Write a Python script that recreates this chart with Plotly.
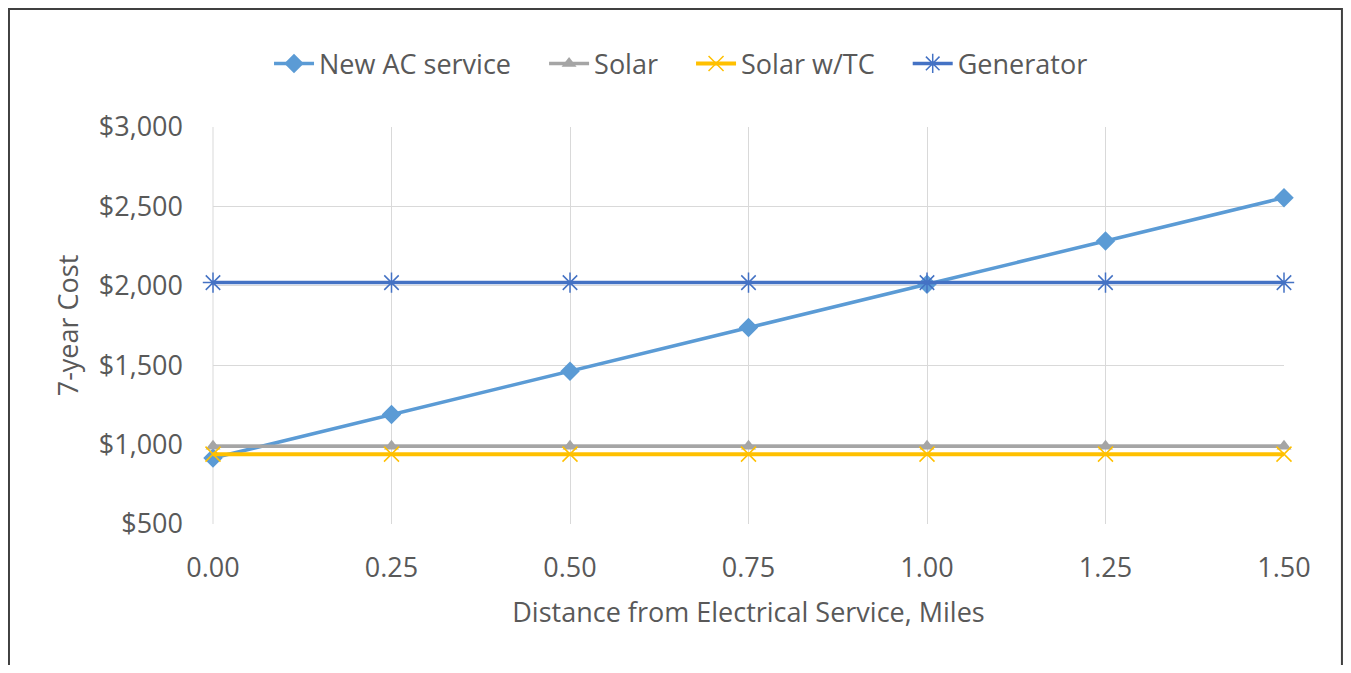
import plotly.graph_objects as go

distance = [0.00, 0.25, 0.50, 0.75, 1.00, 1.25, 1.50]
new_ac = [915, 1190, 1462, 1737, 2010, 2282, 2555]
solar = [990, 990, 990, 990, 990, 990, 990]
solar_tc = [940, 940, 940, 940, 940, 940, 940]
generator = [2020, 2020, 2020, 2020, 2020, 2020, 2020]

series_names = ["New AC service", "Solar", "Solar w/TC", "Generator"]

x_ticks = [0.00, 0.25, 0.50, 0.75, 1.00, 1.25, 1.50]
x_tick_text = ["0.00", "0.25", "0.50", "0.75", "1.00", "1.25", "1.50"]
y_ticks = [500, 1000, 1500, 2000, 2500, 3000]
y_tick_text = ["$500", "$1,000", "$1,500", "$2,000", "$2,500", "$3,000"]

FONT = "Open Sans"
TXT = "#595959"
FS = 27
PAD = "\u00a0" * 4

fig = go.Figure()
fig.add_trace(go.Scatter(x=distance, y=new_ac, name=series_names[0] + PAD, mode="lines+markers",
                         line=dict(color="#5B9BD5", width=3.5),
                         marker=dict(symbol="diamond", size=15, color="#5B9BD5"),
                         cliponaxis=False))
fig.add_trace(go.Scatter(x=distance, y=solar, name=series_names[1] + PAD, mode="lines+markers",
                         line=dict(color="#A5A5A5", width=3.5),
                         marker=dict(symbol="triangle-up", size=13, color="#A5A5A5"),
                         cliponaxis=False))
fig.add_trace(go.Scatter(x=distance, y=solar_tc, name=series_names[2] + PAD, mode="lines+markers",
                         line=dict(color="#FFC000", width=4),
                         marker=dict(symbol="x-thin-open", size=15, color="#FFC000",
                                     line=dict(color="#FFC000", width=1.5)),
                         cliponaxis=False))
fig.add_trace(go.Scatter(x=distance, y=generator, name=series_names[3], mode="lines+markers",
                         line=dict(color="#4472C4", width=3.5),
                         marker=dict(symbol="asterisk-open", size=17, color="#4472C4",
                                     line=dict(color="#4472C4", width=1.5)),
                         cliponaxis=False))

fig.update_layout(
    width=1335, height=657,
    margin=dict(l=205, r=59, t=119, b=141),
    paper_bgcolor="white", plot_bgcolor="white",
    font=dict(family=FONT, color=TXT, size=FS),
    showlegend=True,
    legend=dict(orientation="h", x=0.437, y=1.159, xanchor="center", yanchor="middle",
                font=dict(size=FS, color=TXT), itemwidth=40, tracegroupgap=0,
                bgcolor="rgba(0,0,0,0)"),
    xaxis=dict(range=[0, 1.5], tickvals=x_ticks, ticktext=x_tick_text,
               showgrid=True, gridcolor="#D9D9D9", gridwidth=1,
               zeroline=False, showline=False, ticks="", ticklabelstandoff=25,
               tickfont=dict(size=FS, color=TXT),
               title=dict(text="Distance from Electrical Service, Miles",
                          font=dict(size=FS, color=TXT), standoff=19)),
    yaxis=dict(range=[500, 3000], tickvals=y_ticks, ticktext=y_tick_text,
               showgrid=True, gridcolor="#D9D9D9", gridwidth=1,
               zeroline=False, showline=False, ticks="", ticklabelstandoff=29,
               tickfont=dict(size=FS, color=TXT),
               title=dict(text="7-year Cost", font=dict(size=FS, color=TXT), standoff=12)),
    shapes=[dict(type="rect", xref="paper", yref="paper",
                 x0=-0.1905, x1=1.0541, y0=-0.42, y1=1.297,
                 line=dict(color="#404040", width=2), fillcolor="rgba(0,0,0,0)", layer="below"),
            dict(type="line", xref="paper", yref="paper", x0=0, x1=0, y0=0, y1=1,
                 line=dict(color="#D9D9D9", width=1), layer="below")],
)

fig.write_html("out.html")
